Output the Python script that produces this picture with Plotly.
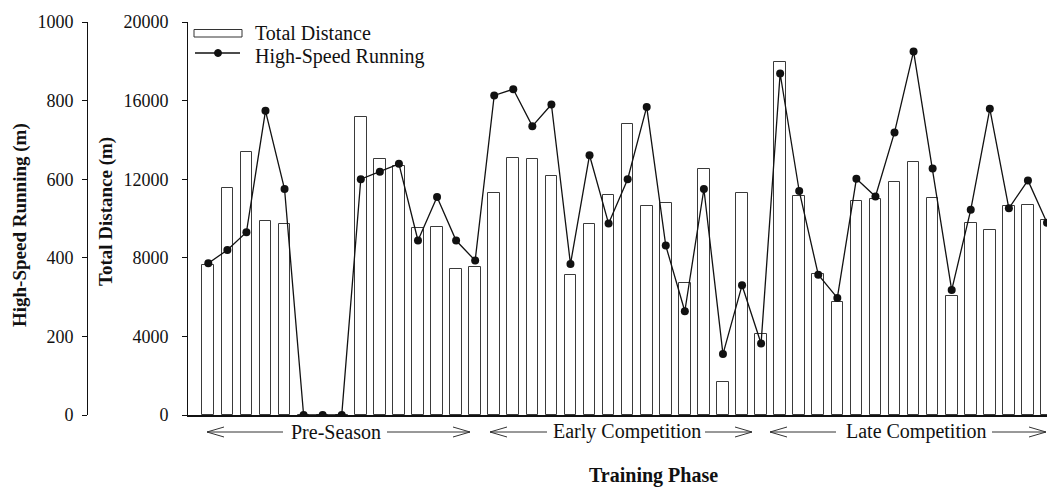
import plotly.graph_objects as go

# ---------------- data ----------------
sessions = list(range(1, 46))
total_distance = [7634, 11568, 13400, 9857, 9737, 0, 0, 0, 15183, 13045,
                  12672, 9533, 9585, 7430, 7548, 11281, 13096, 13028, 12180, 7125,
                  9703, 11196, 14826, 10636, 10789, 6734, 12519, 1679, 11298, 4105,
                  17981, 11162, 7176, 5751, 10908, 10992, 11840, 12892, 11026, 6073,
                  9771, 9415, 10653, 10704, 9924]
high_speed_running = [386, 420, 465, 774, 575, 0, 0, 0, 600, 619,
                      639, 444, 555, 444, 393, 813, 829, 735, 790, 384,
                      661, 487, 600, 784, 431, 264, 575, 155, 330, 182,
                      869, 570, 357, 298, 601, 556, 719, 925, 627, 318,
                      522, 779, 526, 597, 489]
td_ticks = [0, 4000, 8000, 12000, 16000, 20000]
hsr_ticks = [0, 200, 400, 600, 800, 1000]
phase_names = ["Pre-Season", "Early Competition", "Late Competition"]

# ---------------- layout geometry (pixels) ----------------
W, H = 1047, 489
OUTER_AXIS_X = 87
PLOT_L, PLOT_R, PLOT_T, PLOT_B = 188, 1047, 22, 415
PAPER_W = PLOT_R - OUTER_AXIS_X
PLOT_H = PLOT_B - PLOT_T
FONT = "Liberation Serif, Times New Roman, serif"


def px_x(px):
    return (px - OUTER_AXIS_X) / PAPER_W


def px_y(py):
    return (PLOT_B - py) / PLOT_H


fig = go.Figure()
fig.add_trace(go.Bar(
    x=sessions, y=total_distance, name="Total Distance", yaxis="y",
    width=0.61, marker=dict(color="white", line=dict(color="#3a3a3a", width=1)),
    showlegend=False))
fig.add_trace(go.Scatter(
    x=sessions, y=high_speed_running, name="High-Speed Running", yaxis="y2",
    mode="lines+markers", line=dict(color="#111", width=1.3),
    marker=dict(color="#111", size=8), showlegend=False))

x_dom0 = px_x(PLOT_L)
fig.update_layout(
    width=W, height=H,
    margin=dict(l=OUTER_AXIS_X, r=W - PLOT_R, t=PLOT_T, b=H - PLOT_B),
    paper_bgcolor="white", plot_bgcolor="white",
    font=dict(family=FONT, size=18, color="#111"),
    bargap=0,
    xaxis=dict(domain=[x_dom0, 1], range=[-0.065, 45], showline=True,
               linecolor="#111", linewidth=1.5, ticks="", showticklabels=False,
               showgrid=False, zeroline=False),
    yaxis=dict(range=[0, 20000], tickvals=td_ticks,
               ticktext=[str(v) for v in td_ticks], ticks="outside", ticklen=5,
               tickcolor="#111", showline=True, linecolor="#111", linewidth=1,
               showgrid=False, zeroline=False, anchor="x",
               tickfont=dict(size=18), ticklabelstandoff=10),
    yaxis2=dict(range=[0, 1000], tickvals=hsr_ticks,
                ticktext=[str(v) for v in hsr_ticks], ticks="outside", ticklen=5,
                tickcolor="#111", showline=True, linecolor="#111", linewidth=1,
                showgrid=False, zeroline=False, overlaying="y", anchor="free",
                position=0, side="left", tickfont=dict(size=18),
                ticklabelstandoff=5),
)

annotations = []
shapes = []

# axis titles
annotations.append(dict(xref="paper", yref="paper", x=px_x(20), y=px_y(225),
                        xanchor="center", yanchor="middle",
                        text="<b>High-Speed Running (m)</b>", textangle=-90,
                        showarrow=False, font=dict(size=19)))
annotations.append(dict(xref="paper", yref="paper", x=px_x(106), y=px_y(212),
                        xanchor="center", yanchor="middle",
                        text="<b>Total Distance (m)</b>", textangle=-90,
                        showarrow=False, font=dict(size=19)))
annotations.append(dict(xref="paper", yref="paper", x=px_x(653), y=px_y(475),
                        xanchor="center", yanchor="middle",
                        text="<b>Training Phase</b>", showarrow=False,
                        font=dict(size=20)))

# legend (drawn manually)
shapes.append(dict(type="rect", xref="paper", yref="paper",
                   x0=px_x(194), x1=px_x(242), y0=px_y(29.5), y1=px_y(37),
                   line=dict(color="#333", width=1), fillcolor="white"))
shapes.append(dict(type="line", xref="paper", yref="paper",
                   x0=px_x(195), x1=px_x(240), y0=px_y(53), y1=px_y(53),
                   line=dict(color="#111", width=1.3)))
shapes.append(dict(type="circle", xref="paper", yref="paper",
                   x0=px_x(214.5), x1=px_x(221.5), y0=px_y(49.5), y1=px_y(56.5),
                   line=dict(color="#111", width=1), fillcolor="#111"))
annotations.append(dict(xref="paper", yref="paper", x=px_x(253), y=px_y(33),
                        xanchor="left", yanchor="middle", text="Total Distance",
                        showarrow=False, font=dict(size=20)))
annotations.append(dict(xref="paper", yref="paper", x=px_x(253), y=px_y(56),
                        xanchor="left", yanchor="middle", text="High-Speed Running",
                        showarrow=False, font=dict(size=20)))

# phase labels with arrows (pixel layout)
phase_text_cx = [336, 627, 916]
phase_left_tip = [207, 490, 770]
phase_left_end = [283, 547, 836]
phase_right_start = [387, 705, 992]
phase_right_tip = [470, 752, 1046]
ARROW_Y = 432
CHEV_L, CHEV_H = 17, 5
for name, cx, lt, le, rs, rt in zip(phase_names, phase_text_cx, phase_left_tip,
                                    phase_left_end, phase_right_start, phase_right_tip):
    annotations.append(dict(xref="paper", yref="paper", x=px_x(cx), y=px_y(ARROW_Y),
                            xanchor="center", yanchor="middle",
                            text=name, showarrow=False, font=dict(size=20)))
    for a, b in ((lt, le), (rt, rs)):
        shapes.append(dict(type="line", xref="paper", yref="paper",
                           x0=px_x(a), x1=px_x(b), y0=px_y(ARROW_Y), y1=px_y(ARROW_Y),
                           line=dict(color="#333", width=1)))
        d = CHEV_L if b > a else -CHEV_L
        path = "M {},{} L {},{} L {},{}".format(
            px_x(a + d), px_y(ARROW_Y - CHEV_H), px_x(a), px_y(ARROW_Y),
            px_x(a + d), px_y(ARROW_Y + CHEV_H))
        shapes.append(dict(type="path", xref="paper", yref="paper", path=path,
                           line=dict(color="#333", width=1)))

fig.update_layout(annotations=annotations, shapes=shapes)

fig.write_html("out.html", config={"displayModeBar": False},
               post_script="document.body.style.margin='0';document.body.style.padding='0';")
